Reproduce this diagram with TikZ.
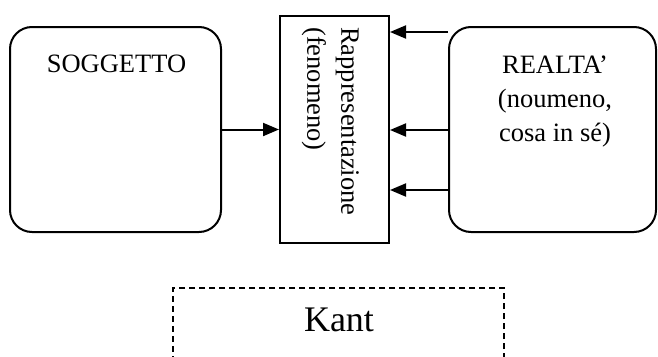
\documentclass[tikz,border=0pt]{standalone}
\usepackage{fontspec}
\setmainfont{Liberation Serif}
\usetikzlibrary{arrows.meta}
\tikzstyle{plainbox}=[draw, line width=2pt, inner sep=0pt]
\tikzstyle{rbox}=[plainbox, rounded corners=22pt]
\tikzstyle{dbox}=[plainbox, dash pattern=on 6pt off 4pt]
\tikzstyle{txt}=[inner sep=0pt, font=\fontsize{26.5}{34}\selectfont]
\tikzstyle{arr}=[line width=2pt, -{Triangle[length=16pt,width=13pt]}]

\begin{document}
\begin{tikzpicture}[x=1pt, y=-1pt]
        \useasboundingbox (0,0) rectangle (658,356);
        \clip (0,0) rectangle (658,356);
        \node[rbox, minimum width=211pt, minimum height=205pt] (sogg) at (115.5,129.5) {};
        \node[plainbox, minimum width=109pt, minimum height=227pt] (rappr) at (334.5,129.5) {};
        \node[rbox, minimum width=207pt, minimum height=205pt] (real) at (552.5,129.5) {};
        \node[dbox, minimum width=331pt, minimum height=120pt] (kantbox) at (338.5,348) {};
        \node[txt, anchor=north] (soggtxt) at (116.5,55) {SOGGETTO};
        \node[txt, anchor=north, align=center] (realtxt) at (555,56) {REALTA’\\(noumeno,\\cosa in sé)};
        \node[txt, anchor=north west, rotate=-90, align=left] (rapprtxt) at (359,27) {Rappresentazione\\(fenomeno)};
        \node[txt, anchor=north, font=\fontsize{36}{40}\selectfont] (kant) at (339,308) {Kant};
        \draw[arr] (sogg.east) -- (rappr.west);
        \foreach \yy in {32,130,190}
            \draw[arr] (real.west |- 0,\yy) -- (rappr.east |- 0,\yy);
    \end{tikzpicture}
\end{document}
